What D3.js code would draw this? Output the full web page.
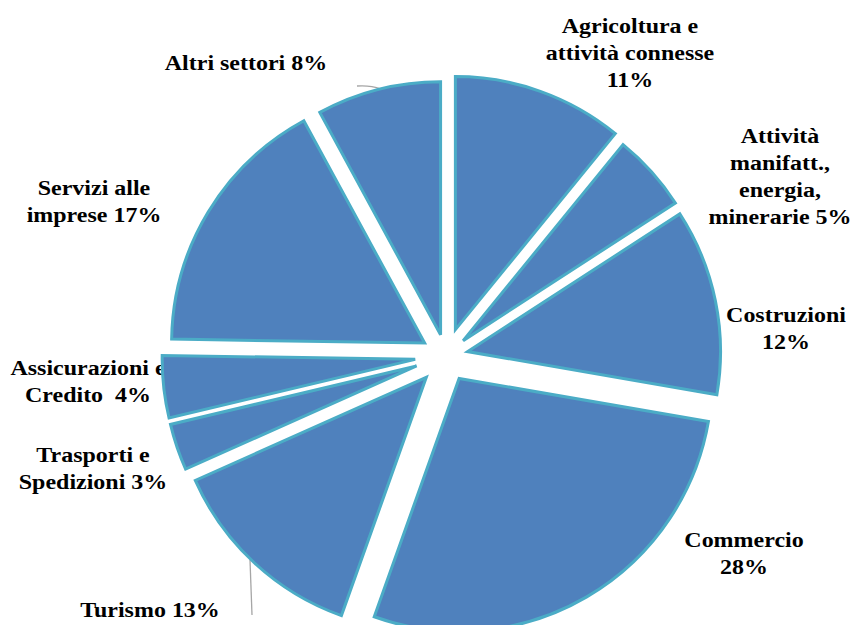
<!DOCTYPE html>
<html><head><meta charset="utf-8">
<script src="https://cdn.jsdelivr.net/npm/d3@7/dist/d3.min.js"></script>
<style>
html,body{margin:0;padding:0;background:#fff;}
</style></head>
<body><svg id="c" width="851" height="625"></svg>
<script>
// Data
const categories = ["Agricoltura e attività connesse","Attività manifatt., energia, minerarie","Costruzioni","Commercio","Turismo","Trasporti e Spedizioni","Assicurazioni e Credito","Servizi alle imprese","Altri settori"];
const values = [11,5,12,28,13,3,4,17,8];
const labelLines = [
  ["Agricoltura e","attività connesse","11%"],
  ["Attività","manifatt.,","energia,","minerarie 5%"],
  ["Costruzioni","12%"],
  ["Commercio","28%"],
  ["Turismo 13%"],
  ["Trasporti e","Spedizioni 3%"],
  ["Assicurazioni e","Credito  4%"],
  ["Servizi alle","imprese 17%"],
  ["Altri settori 8%"]
];

// Layout
const cx = 446, cy = 356, R = 253;
const explode = [28,23,22,26,29,31,31,25,22];
const labelAnchor = [[630,33],[780,143],[786,322],[744,547],[150,617],[93,462],[88,375],[94,195],[246,70]];
const lineH = 27;
const FONT = "Liberation Serif";

const svg = d3.select("#c");
const pie = d3.pie().sort(null).value(d=>d)(values);
const arc = d3.arc().innerRadius(0).outerRadius(R);

// labels (drawn beneath slices)
const lg = svg.append("g");
labelLines.forEach((lines,i)=>{
  const t = lg.append("g").attr("transform",`translate(${labelAnchor[i][0]},${labelAnchor[i][1]}) scale(1.09,1)`)
    .append("text").attr("text-anchor","middle")
    .style("font-family",FONT).style("font-weight","700").style("font-size","22px").attr("fill","#000");
  lines.forEach((l,j)=>{
    t.append("tspan").attr("x",0).attr("dy", j===0?0:lineH).attr("xml:space","preserve").text(l);
  });
});

// leader lines
svg.append("path").attr("d","M357,86 Q370,85 381,89").attr("fill","none").attr("stroke","#a6a6a6").attr("stroke-width",1.3);
svg.append("path").attr("d","M250,560 L252,615").attr("fill","none").attr("stroke","#a6a6a6").attr("stroke-width",1.3);

const g = svg.append("g").attr("transform",`translate(${cx},${cy})`);
g.selectAll("path.slice").data(pie).join("path")
  .attr("class","slice")
  .attr("transform",(d,i)=>{
    const m=(d.startAngle+d.endAngle)/2;
    return `translate(${explode[i]*Math.sin(m)},${-explode[i]*Math.cos(m)})`;
  })
  .attr("d",arc)
  .attr("fill","#4F81BD")
  .attr("stroke","#4BACC6")
  .attr("stroke-width",3)
  .attr("stroke-linejoin","miter");
</script>
</body></html>
